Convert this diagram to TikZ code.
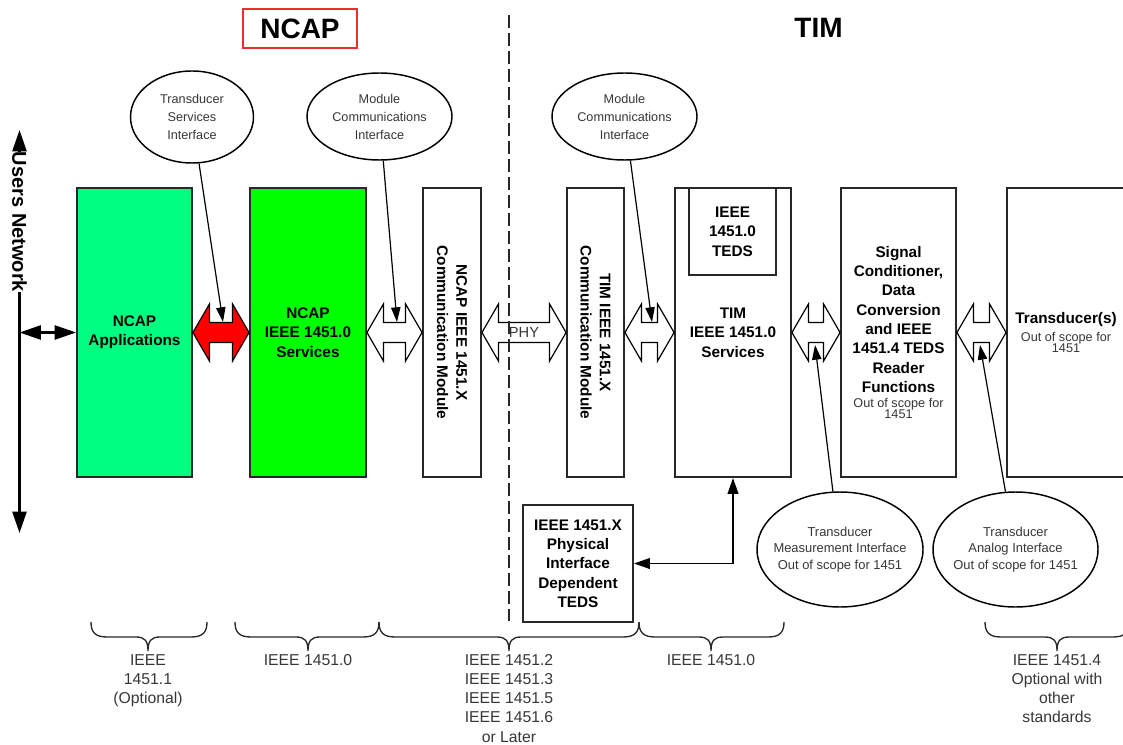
\documentclass[tikz,border=0pt]{standalone}
\usepackage{fontspec}
\setmainfont{Liberation Sans}
\usetikzlibrary{arrows.meta,shapes.geometric,calc}

\definecolor{appgreen}{RGB}{0,255,128}
\definecolor{svcgreen}{RGB}{0,255,0}
\definecolor{ink}{RGB}{40,40,40}
\definecolor{soft}{RGB}{55,55,55}
\definecolor{titlered}{RGB}{232,48,48}

\newcommand\bxfont{\fontsize{11.5}{14.5}\selectfont\bfseries}
\newcommand\notefont{\fontsize{9.5}{8.5}\selectfont\mdseries\color{soft}}
\newcommand\ellfont{\fontsize{9.5}{13.5}\selectfont}
\newcommand\ellfontb{\fontsize{9.7}{12.6}\selectfont}
\newcommand\lblfont{\fontsize{11.8}{14.4}\selectfont}
\newcommand\ttlfont{\fontsize{21}{24}\selectfont\bfseries}

% hollow double-headed block arrow between two boxes
\newcommand\pipearrow[3]{%
  \draw[pipe,fill=#3] let \p1=(#1.east), \p2=(#2.west) in
    (\x1,\y1) -- (\x1+12.4pt,\y1+21.4pt) -- (\x1+12.4pt,\y1+7.5pt)
    -- (\x2-12.4pt,\y1+7.5pt) -- (\x2-12.4pt,\y1+21.4pt) -- (\x2,\y1)
    -- (\x2-12.4pt,\y1-21.4pt) -- (\x2-12.4pt,\y1-7.5pt)
    -- (\x1+12.4pt,\y1-7.5pt) -- (\x1+12.4pt,\y1-21.4pt) -- cycle;}

% downward curly brace: left end, tip, right end
\newcommand\curlybrace[3]{%
  \draw[bracepen] (#1,622) .. controls (#1,632) and (#1+4,637) .. (#1+16,637)
    -- (#2-12,637) .. controls (#2-3,637) and (#2,641) .. (#2,651)
    .. controls (#2,641) and (#2+3,637) .. (#2+12,637)
    -- (#3-16,637) .. controls (#3-4,637) and (#3,632) .. (#3,622);}

\begin{document}
\begin{tikzpicture}[x=0.75pt,y=-0.75pt,
  box/.style={draw=ink, line width=1.4pt, inner sep=0pt, minimum height=216.75pt,
    align=center, font=\bxfont, text=black},
  vtext/.style={rotate=-90, inner sep=0pt, align=center, font=\bxfont, text=black},
  bubble/.style={ellipse, draw=black, line width=1.1pt, inner xsep=-14pt, inner ysep=0pt,
    align=center, font=\ellfont, text=soft},
  pipe/.style={draw=black, line width=0.9pt, line join=miter},
  leader/.style={draw=black, line width=0.9pt, -{Triangle[length=11pt,width=7pt]}},
  link/.style={draw=black, line width=1.4pt,
    {Triangle[length=12pt,width=8pt]}-{Triangle[length=12pt,width=8pt]}},
  netline/.style={draw=black, line width=1.8pt},
  divider/.style={draw=ink, line width=1.4pt, dash pattern=on 10pt off 3.5pt},
  bracepen/.style={draw=ink, line width=1pt},
  lbl/.style={anchor=north, inner sep=0pt, align=center, font=\lblfont, text=soft},
]
\useasboundingbox (0,0) rectangle (1123,745);
\fill[white] (0,0) rectangle (1123,745);
\clip (0,0) rectangle (1123,745);

% headings
\node[draw=titlered, line width=1.1pt, minimum width=85.5pt, minimum height=29.25pt,
  inner sep=0pt, font=\ttlfont] (ncaptitle) at (300,28.5) {NCAP};
\node[inner sep=0pt, font=\ttlfont] (timtitle) at (818.5,28) {TIM};

% main row of blocks
\node[box, fill=appgreen, minimum width=86.25pt] (app) at (134.5,332.5) {NCAP\\Applications};
\node[box, fill=svcgreen, minimum width=87pt] (svc) at (308,332.5) {NCAP\\IEEE 1451.0\\Services};
\node[box, minimum width=43.5pt] (ncm) at (452,332.5) {};
\node[vtext] (ncmtext) at (ncm) {NCAP IEEE 1451.X\\Communication Module};
\node[box, minimum width=42.75pt] (tcm) at (595.5,332.5) {};
\node[vtext] (tcmtext) at (tcm) {TIM IEEE 1451.X\\Communication Module};
\node[box, minimum width=87pt] (tsvc) at (733,332.5) {TIM\\IEEE 1451.0\\Services};
\node[box, minimum width=65.25pt, minimum height=65.25pt] (teds) at (732.5,231.5) {IEEE\\1451.0\\TEDS};
\node[box, minimum width=86.25pt] (sig) at (898.5,332.5)
  {Signal\\Conditioner,\\Data\\Conversion\\and IEEE\\1451.4 TEDS\\Reader\\Functions\\[-3.25pt]
   {\notefont Out of scope for}\\[-6.25pt]{\notefont 1451}};
\node[box, minimum width=88.5pt] (trans) at (1066,332.5)
  {Transducer(s)\\[-1pt]{\notefont Out of scope for}\\[-6.25pt]{\notefont 1451}};

% block arrows between the blocks
\pipearrow{app}{svc}{red}
\pipearrow{svc}{ncm}{white}
\pipearrow{ncm}{tcm}{white}
\pipearrow{tcm}{tsvc}{white}
\pipearrow{tsvc}{sig}{white}
\pipearrow{sig}{trans}{white}
\node[inner sep=0pt, font=\fontsize{11}{13}\selectfont, text=soft] (phy)
  at ($(ncm.east)!0.5!(tcm.west)$) {PHY};

% NCAP / TIM boundary
\coordinate (divtop) at (509,15);
\coordinate (divbot) at (509,621);
\draw[divider] (divtop) -- (divbot);

% interface call-outs
\node[bubble, minimum width=92.25pt, minimum height=69pt] (tsi) at (192,117)
  {Transducer\\Services\\Interface};
\node[bubble, minimum width=108.75pt, minimum height=65.25pt] (mci1) at (379.5,116.5)
  {Module\\Communications\\Interface};
\node[bubble, minimum width=108.75pt, minimum height=65.25pt] (mci2) at (624.5,116.5)
  {Module\\Communications\\Interface};
\node[bubble, font=\ellfontb, minimum width=124.5pt, minimum height=86.25pt] (tmi) at (840,549.5)
  {Transducer\\Measurement Interface\\Out of scope for 1451};
\node[bubble, font=\ellfontb, minimum width=123.75pt, minimum height=86.25pt] (tai) at (1015.5,549.5)
  {Transducer\\Analog Interface\\Out of scope for 1451};

\coordinate (tsitip) at (223,322);
\coordinate (mci1tip) at (397,322);
\coordinate (mci2tip) at (652,322);
\coordinate (tmitip) at (815,345);
\coordinate (taitip) at (980,345);
\draw[leader] (tsi) -- (tsitip);
\draw[leader] (mci1) -- (mci1tip);
\draw[leader] (mci2) -- (mci2tip);
\draw[leader] (tmi) -- (tmitip);
\draw[leader] (tai) -- (taitip);

% users network bus
\node[rotate=-90, inner sep=0pt, font=\fontsize{15}{18}\selectfont\bfseries] (netlabel)
  at (19.5,222) {Users Network};
\coordinate (nettop) at (19.5,130);
\coordinate (netbot) at (19.5,533);
\coordinate (netjoin) at (19.5,332.5);
\draw[netline,-{Triangle[length=16pt,width=10.5pt]}] (netlabel.west) -- (nettop);
\draw[netline,-{Triangle[length=16pt,width=10.5pt]}] (netlabel.east) -- (netbot);
\draw[netline,{Triangle[length=16pt,width=10.5pt]}-{Triangle[length=16pt,width=10.5pt]}]
  (netjoin) -- (app.west);

% physical interface TEDS
\node[box, minimum width=82.5pt, minimum height=87.75pt] (phyteds) at (578,563.5)
  {IEEE 1451.X\\Physical\\Interface\\Dependent\\TEDS};
\draw[link] (phyteds.east) -| (tsvc.south);

% standards braces
\curlybrace{91}{148}{207}
\curlybrace{235}{308}{379}
\curlybrace{379}{509}{639}
\curlybrace{639}{711}{784}
\curlybrace{985}{1057}{1129}
\node[lbl] (std1) at (148,654) {IEEE\\1451.1\\(Optional)};
\node[lbl] (std2) at (308,654) {IEEE 1451.0};
\node[lbl] (std3) at (509,654) {IEEE 1451.2\\IEEE 1451.3\\IEEE 1451.5\\IEEE 1451.6\\or Later};
\node[lbl] (std4) at (711,654) {IEEE 1451.0};
\node[lbl] (std5) at (1057,654) {IEEE 1451.4\\Optional with\\other\\standards};
\end{tikzpicture}
\end{document}
